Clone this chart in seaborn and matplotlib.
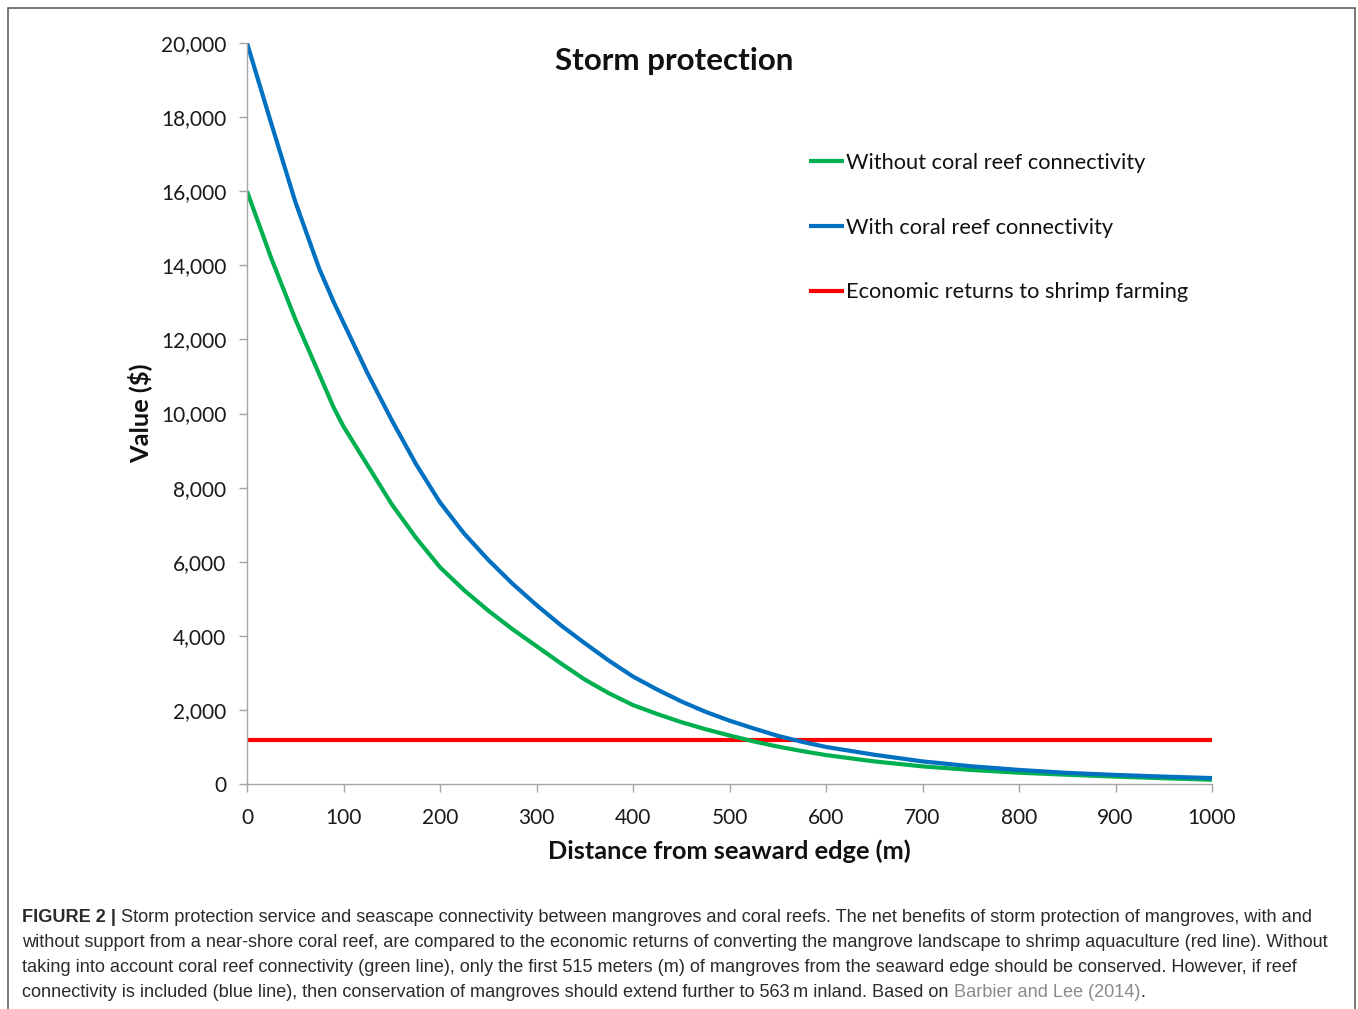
import numpy as np
import pandas as pd
import matplotlib
matplotlib.use("Agg")
import matplotlib.pyplot as plt
import seaborn as sns
from matplotlib.patches import Rectangle
from matplotlib.ticker import FuncFormatter

# values
distance = [0, 25, 50, 75, 90, 100, 125, 150, 175, 200, 225, 250, 275, 300,
            325, 350, 375, 400, 425, 450, 475, 500, 525, 550, 575, 600,
            650, 700, 750, 800, 850, 900, 950, 1000]
without_reef = [16000, 14200, 12550, 11050, 10150, 9650, 8600, 7550, 6650, 5850,
                5230, 4680, 4180, 3720, 3260, 2820, 2450, 2130, 1890, 1670,
                1480, 1310, 1150, 1010, 890, 780,
                610, 475, 380, 305, 250, 200, 155, 115]
with_reef = [20000, 17840, 15720, 13900, 13000, 12450, 11080, 9820, 8640, 7600,
             6760, 6050, 5410, 4830, 4290, 3800, 3330, 2900, 2550, 2230,
             1950, 1710, 1500, 1300, 1140, 1000,
             790, 610, 480, 380, 300, 245, 200, 160]
shrimp_x = [0, 1000]
shrimp_value = [1200, 1200]

labels = ["Without coral reef connectivity", "With coral reef connectivity",
          "Economic returns to shrimp farming"]
colors = ["#00B050", "#0070C0", "#FF0000"]

df_green = pd.DataFrame({"distance": distance, "value": without_reef})
df_blue = pd.DataFrame({"distance": distance, "value": with_reef})
df_red = pd.DataFrame({"distance": shrimp_x, "value": shrimp_value})

sns.set_style("ticks")
plt.rcParams["font.family"] = ["Lato", "DejaVu Sans"]

W, H = 1358, 1009
fig = plt.figure(figsize=(W / 100, H / 100), dpi=100)
ax = fig.add_axes([247 / W, 1 - 784 / H, 965 / W, 741 / H])

# red first so the curves sit on top of it
sns.lineplot(data=df_red, x="distance", y="value", color=colors[2], lw=3,
             ax=ax, label=labels[2])
sns.lineplot(data=df_green, x="distance", y="value", color=colors[0], lw=3,
             ax=ax, label=labels[0])
sns.lineplot(data=df_blue, x="distance", y="value", color=colors[1], lw=3,
             ax=ax, label=labels[1])

ax.set_xlim(0, 1000)
ax.set_ylim(0, 20000)
ax.set_xticks(range(0, 1001, 100))
ax.set_yticks(range(0, 20001, 2000))
ax.yaxis.set_major_formatter(FuncFormatter(lambda v, p: f"{v:,.0f}"))
for s in ["top", "right"]:
    ax.spines[s].set_visible(False)
for s in ["left", "bottom"]:
    ax.spines[s].set_color("#a6a6a6")
    ax.spines[s].set_linewidth(1.0)
ax.tick_params(axis="both", colors="#a6a6a6", length=6, width=1.0,
               labelcolor="#1a1a1a", labelsize=15)
ax.tick_params(axis="y", pad=9)
ax.tick_params(axis="x", pad=11)
for ln in ax.lines:
    ln.set_solid_capstyle("butt")
    ln.set_solid_joinstyle("round")

ax.set_xlabel("Distance from seaward edge (m)", fontsize=18.3,
              fontweight="bold", color="#111111", va="center")
ax.set_ylabel("Value ($)", fontsize=18.3, fontweight="bold",
              color="#111111", va="center")
ax.xaxis.set_label_coords(0.5, -(851 - 784) / 741)
ax.yaxis.set_label_coords(-(247 - 140) / 965, 0.5)

fig.text(674 / W, 1 - 61 / H, "Storm protection", fontsize=22.6,
         fontweight="bold", ha="center", va="center", color="#111111")

# legend in the order green, blue, red
handles, labs = ax.get_legend_handles_labels()
order = [labs.index(l) for l in labels]
ax.legend([handles[i] for i in order], [labs[i] for i in order],
          loc="upper left", bbox_to_anchor=(809 / W, 1 - 153 / H),
          bbox_transform=fig.transFigure, frameon=False, fontsize=15.7,
          handlelength=1.6, handletextpad=0.1, labelspacing=2.05,
          borderpad=0, borderaxespad=0, labelcolor="#111111")

# outer frame
fig.add_artist(Rectangle((7.5 / W, -0.02), (1354.5 - 7.5) / W, 0.02 + 1 - 8.3 / H,
                         transform=fig.transFigure, fill=False,
                         edgecolor="#555555", lw=1.1))

# caption
cap_font = ["Liberation Sans", "DejaVu Sans"]
cap_color = "#2b2b2b"
cap_size = 13.1
baselines = [922, 947, 972, 997]
t0 = fig.text(22 / W, 1 - baselines[0] / H, "FIGURE 2 | ", family=cap_font,
              fontsize=cap_size, fontweight="bold", color=cap_color,
              va="baseline", ha="left")
ax.annotate("Storm protection service and seascape connectivity between mangroves "
            "and coral reefs. The net benefits of storm protection of mangroves, with and",
            xy=(1, 0), xycoords=t0, family=cap_font, fontsize=cap_size,
            color=cap_color, va="bottom", ha="left", annotation_clip=False)
fig.text(22 / W, 1 - baselines[1] / H,
         "without support from a near-shore coral reef, are compared to the economic "
         "returns of converting the mangrove landscape to shrimp aquaculture (red line). Without",
         family=cap_font, fontsize=cap_size, color=cap_color, va="baseline", ha="left")
fig.text(22 / W, 1 - baselines[2] / H,
         "taking into account coral reef connectivity (green line), only the first 515 meters (m) "
         "of mangroves from the seaward edge should be conserved. However, if reef",
         family=cap_font, fontsize=cap_size, color=cap_color, va="baseline", ha="left")
t4 = fig.text(22 / W, 1 - baselines[3] / H,
              "connectivity is included (blue line), then conservation of mangroves should "
              "extend further to 563\u2009m inland. Based on ",
              family=cap_font, fontsize=cap_size, color=cap_color, va="baseline", ha="left")
t5 = ax.annotate("Barbier and Lee (2014)", xy=(1, 0), xycoords=t4, family=cap_font,
                 fontsize=cap_size, color="#8a8a8a", va="bottom", ha="left",
                 annotation_clip=False)
ax.annotate(".", xy=(1, 0), xycoords=t5, family=cap_font, fontsize=cap_size,
            color=cap_color, va="bottom", ha="left", annotation_clip=False)

fig.savefig("out.png", dpi=100, facecolor="white")
